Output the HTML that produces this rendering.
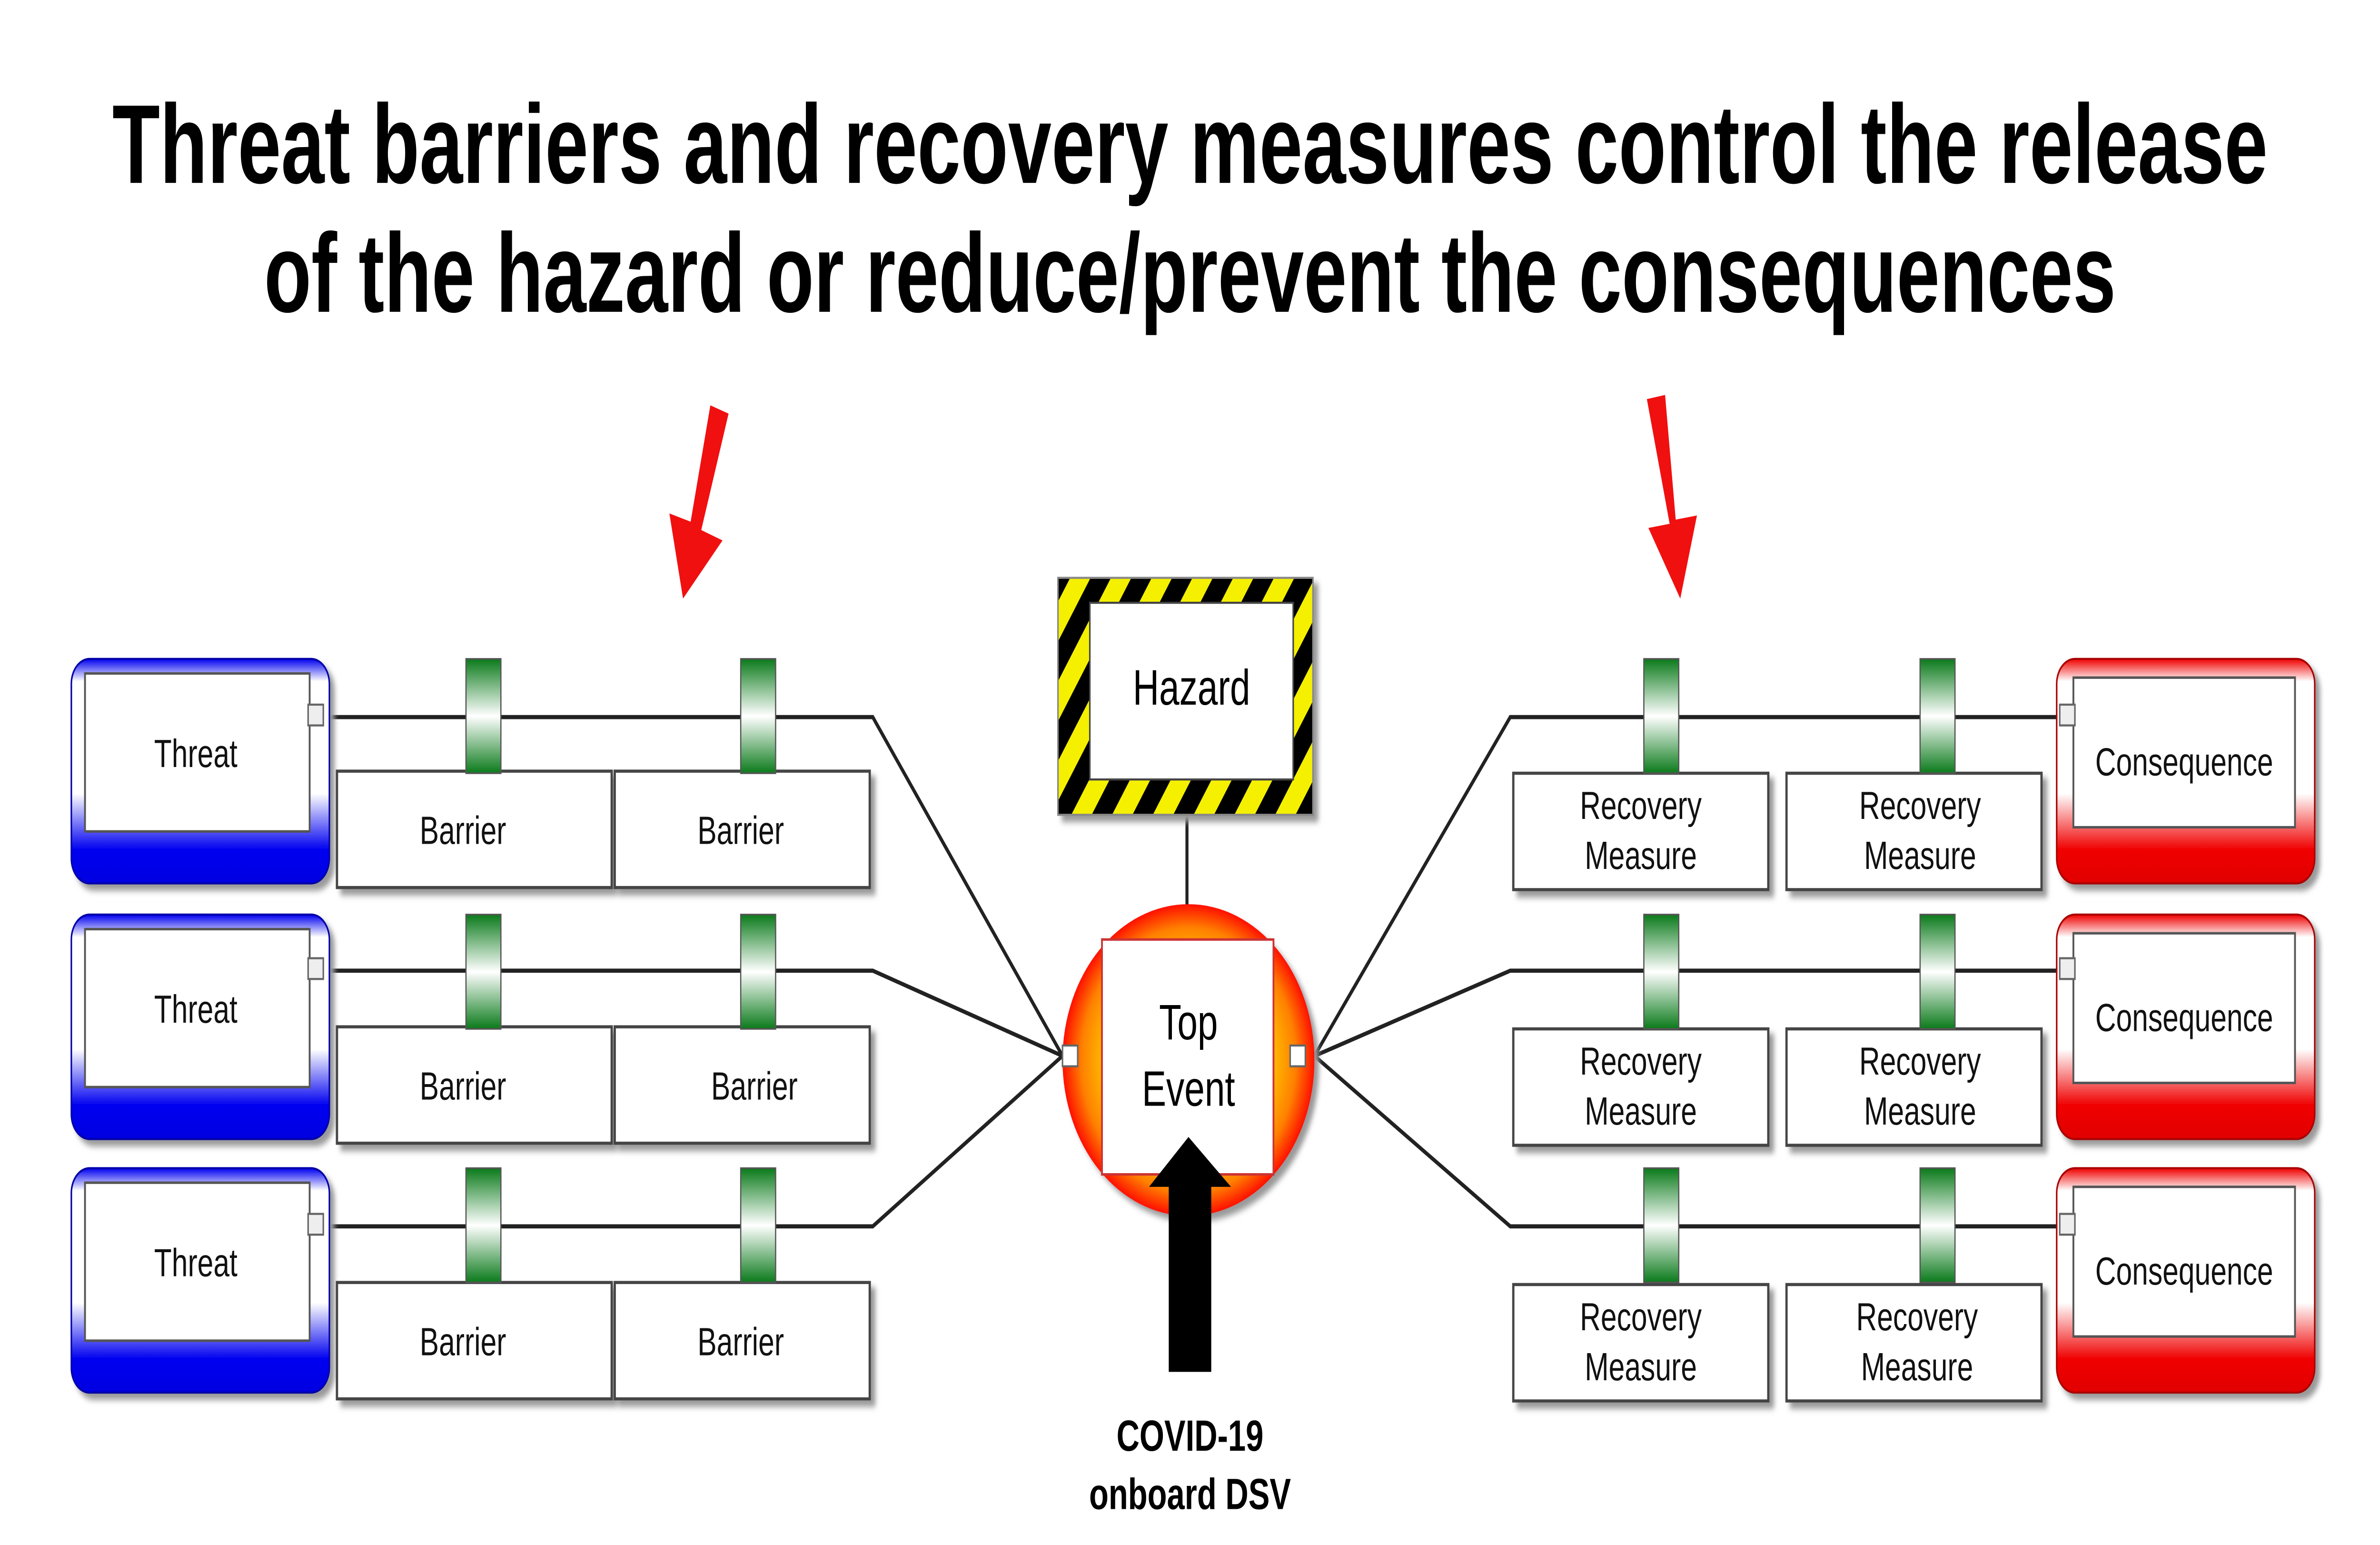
<!DOCTYPE html>
<html><head><meta charset="utf-8"><style>html,body{margin:0;padding:0;background:#fff;width:100%;height:100%;overflow:hidden}svg{display:block;width:100vw;height:100vh}</style></head>
<body>
<svg viewBox="0 0 1568 743.3" preserveAspectRatio="none" xmlns="http://www.w3.org/2000/svg" font-family="'Liberation Sans', sans-serif">
<defs>
<linearGradient id="blue" x1="0" y1="0" x2="0" y2="1"><stop offset="0" stop-color="#0000f0"/><stop offset="0.1" stop-color="#fff"/><stop offset="0.6" stop-color="#fff"/><stop offset="0.85" stop-color="#0000f0"/><stop offset="1" stop-color="#0000e0"/></linearGradient>
<linearGradient id="red" x1="0" y1="0" x2="0" y2="1"><stop offset="0" stop-color="#f00000"/><stop offset="0.1" stop-color="#fff"/><stop offset="0.6" stop-color="#fff"/><stop offset="0.85" stop-color="#f00000"/><stop offset="1" stop-color="#e00000"/></linearGradient>
<linearGradient id="green" x1="0" y1="0" x2="0" y2="1"><stop offset="0" stop-color="#0a7a1a"/><stop offset="0.5" stop-color="#fff"/><stop offset="1" stop-color="#0a7a1a"/></linearGradient>
<radialGradient id="te" cx="0.5" cy="0.5" r="0.5"><stop offset="0.6" stop-color="#ffd000"/><stop offset="0.85" stop-color="#ff8000"/><stop offset="1" stop-color="#ff1000"/></radialGradient>
<pattern id="stripe" width="22" height="22" patternUnits="userSpaceOnUse" patternTransform="rotate(35)"><rect width="22" height="22" fill="#f5f000"/><rect width="11" height="22" fill="#000"/></pattern>
<filter id="sh"><feDropShadow dx="3" dy="3" stdDeviation="1.5" flood-color="#999"/></filter>
</defs>
<text x="784" y="88" text-anchor="middle" font-size="54" font-weight="bold" textLength="1420" lengthAdjust="spacingAndGlyphs">Threat barriers and recovery measures control the release</text>
<text x="784" y="150" text-anchor="middle" font-size="54" font-weight="bold" textLength="1220" lengthAdjust="spacingAndGlyphs">of the hazard or reduce/prevent the consequences</text>
<g fill="#f01010">
<polygon points="468,195 480,199 462,255 476,260 450,288 441,247 455,251"/>
<polygon points="1085,192 1097,190 1104,250 1118,248 1107,288 1086,254 1100,252"/>
</g>
<g stroke="#222" stroke-width="2" fill="none">
<polyline points="215,345 575,345 700,508"/>
<polyline points="215,467 575,467 700,508"/>
<polyline points="215,590 575,590 700,508"/>
<polyline points="1355,345 995,345 866,508"/>
<polyline points="1355,467 995,467 866,508"/>
<polyline points="1355,590 995,590 866,508"/>
<line x1="782" y1="390" x2="782" y2="437"/>
</g>
<g font-size="19" text-anchor="middle" fill="#111">
<g filter="url(#sh)">
<rect x="47" y="317" width="170" height="108" rx="12" fill="url(#blue)" stroke="#00a" stroke-width="1"/>
<rect x="47" y="440" width="170" height="108" rx="12" fill="url(#blue)" stroke="#00a" stroke-width="1"/>
<rect x="47" y="562" width="170" height="108" rx="12" fill="url(#blue)" stroke="#00a" stroke-width="1"/>
<rect x="1355" y="317" width="170" height="108" rx="12" fill="url(#red)" stroke="#a00" stroke-width="1"/>
<rect x="1355" y="440" width="170" height="108" rx="12" fill="url(#red)" stroke="#a00" stroke-width="1"/>
<rect x="1355" y="562" width="170" height="108" rx="12" fill="url(#red)" stroke="#a00" stroke-width="1"/>
</g>
<g fill="#fff" stroke="#555" stroke-width="1.2">
<rect x="56" y="324" width="148" height="76"/><rect x="56" y="447" width="148" height="76"/><rect x="56" y="569" width="148" height="76"/>
<rect x="1366" y="326" width="146" height="72"/><rect x="1366" y="449" width="146" height="72"/><rect x="1366" y="571" width="146" height="72"/>
</g>
<text x="129" y="369">Threat</text><text x="129" y="492">Threat</text><text x="129" y="614">Threat</text>
<text x="1439" y="373">Consequence</text><text x="1439" y="496">Consequence</text><text x="1439" y="618">Consequence</text>
<g fill="#eee" stroke="#666" stroke-width="1"><rect x="203" y="339" width="10" height="10"/><rect x="203" y="461" width="10" height="10"/><rect x="203" y="584" width="10" height="10"/>
<rect x="1357" y="339" width="10" height="10"/><rect x="1357" y="461" width="10" height="10"/><rect x="1357" y="584" width="10" height="10"/></g>
<g fill="#fff" stroke="#444" stroke-width="1.5" filter="url(#sh)">
<rect x="222" y="371" width="181" height="56"/><rect x="405" y="371" width="168" height="56"/>
<rect x="222" y="494" width="181" height="56"/><rect x="405" y="494" width="168" height="56"/>
<rect x="222" y="617" width="181" height="56"/><rect x="405" y="617" width="168" height="56"/>
<rect x="997" y="372" width="168" height="56"/><rect x="1177" y="372" width="168" height="56"/>
<rect x="997" y="495" width="168" height="56"/><rect x="1177" y="495" width="168" height="56"/>
<rect x="997" y="618" width="168" height="56"/><rect x="1177" y="618" width="168" height="56"/>
</g>
<g fill="url(#green)" stroke="#555" stroke-width="0.8">
<rect x="307" y="317" width="23" height="55"/><rect x="488" y="317" width="23" height="55"/>
<rect x="307" y="440" width="23" height="55"/><rect x="488" y="440" width="23" height="55"/>
<rect x="307" y="562" width="23" height="55"/><rect x="488" y="562" width="23" height="55"/>
<rect x="1083" y="317" width="23" height="55"/><rect x="1265" y="317" width="23" height="55"/>
<rect x="1083" y="440" width="23" height="55"/><rect x="1265" y="440" width="23" height="55"/>
<rect x="1083" y="562" width="23" height="55"/><rect x="1265" y="562" width="23" height="55"/>
</g>
<text x="305" y="406">Barrier</text><text x="488" y="406">Barrier</text>
<text x="305" y="529">Barrier</text><text x="497" y="529">Barrier</text>
<text x="305" y="652">Barrier</text><text x="488" y="652">Barrier</text>
<text x="1081" y="394">Recovery</text><text x="1081" y="418">Measure</text>
<text x="1265" y="394">Recovery</text><text x="1265" y="418">Measure</text>
<text x="1081" y="517">Recovery</text><text x="1081" y="541">Measure</text>
<text x="1265" y="517">Recovery</text><text x="1265" y="541">Measure</text>
<text x="1081" y="640">Recovery</text><text x="1081" y="664">Measure</text>
<text x="1263" y="640">Recovery</text><text x="1263" y="664">Measure</text>
</g>
<rect x="697" y="278" width="168" height="114" fill="url(#stripe)" stroke="#888" stroke-width="1" filter="url(#sh)"/>
<rect x="718" y="290" width="134" height="85" fill="#fff" stroke="#444" stroke-width="1"/>
<text x="785" y="339" text-anchor="middle" font-size="24">Hazard</text>
<ellipse cx="783" cy="510" rx="83" ry="75" fill="url(#te)" filter="url(#sh)"/>
<rect x="726" y="452" width="113" height="113" fill="#fff" stroke="#c33" stroke-width="1.2"/>
<text x="783" y="500" text-anchor="middle" font-size="24">Top</text>
<text x="783" y="532" text-anchor="middle" font-size="24">Event</text>
<g fill="#fff" stroke="#666" stroke-width="1"><rect x="700" y="503" width="10" height="10"/><rect x="850" y="503" width="10" height="10"/></g>
<polygon points="783,547 811,571 798,571 798,660 770,660 770,571 757,571" fill="#000"/>
<text x="784" y="698" text-anchor="middle" font-size="21" font-weight="bold">COVID-19</text>
<text x="784" y="726" text-anchor="middle" font-size="21" font-weight="bold">onboard DSV</text>
</svg>
</body></html>
